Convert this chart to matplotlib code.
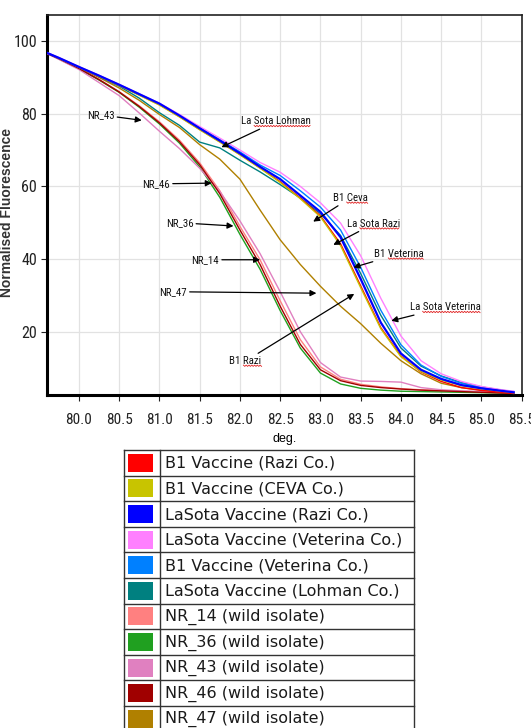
"""Melt-curve chart: normalised fluorescence vs temperature for NDV vaccines and wild isolates."""
from __future__ import annotations

import matplotlib

matplotlib.use("Agg")
import matplotlib.pyplot as plt
from matplotlib import font_manager
from matplotlib.lines import Line2D
from matplotlib.patches import Rectangle
from matplotlib.text import Text
from matplotlib.transforms import IdentityTransform

W, H = 531, 728

# pick a condensed face if one is installed, otherwise plain Arial metrics
_installed = {f.name for f in font_manager.fontManager.ttflist}
_narrow = [n for n in ("Liberation Sans Narrow", "Roboto Condensed", "Open Sans Condensed",
                       "DejaVu Sans Condensed", "Arial Narrow") if n in _installed]
HAS_NARROW = bool(_narrow)
NARROW = _narrow + ["Liberation Sans", "DejaVu Sans"]
ARIAL = ["Liberation Sans", "DejaVu Sans"]

# --- data ------------------------------------------------------------------
temps = [79.6, 79.75, 80.0, 80.25, 80.5, 80.75, 81.0, 81.25, 81.5, 81.75, 82.0, 82.25,
         82.5, 82.75, 83.0, 83.25, 83.5, 83.75, 84.0, 84.25, 84.5, 84.75, 85.0, 85.25, 85.4]

b1_razi = [96.7, 95.3, 92.8, 90.3, 87.8, 85.2, 82.5, 79.2, 75.7, 72.3, 68.8, 65.1,
           61.3, 56.8, 51.9, 44.2, 32.6, 21.1, 13.3, 8.9, 6.3, 4.6, 3.8, 3.3, 3.0]
b1_ceva = [96.8, 95.3, 92.8, 90.3, 87.8, 85.1, 82.4, 79.1, 75.6, 72.2, 68.7, 65.0,
           61.1, 56.6, 51.6, 43.7, 32.1, 20.8, 13.1, 9.0, 6.7, 5.1, 4.3, 3.6, 3.2]
lasota_razi = [96.8, 95.4, 92.9, 90.5, 88.0, 85.4, 82.8, 79.5, 76.0, 72.6, 69.1, 65.4,
               62.0, 57.5, 53.0, 46.0, 34.5, 22.5, 14.0, 9.5, 7.0, 5.3, 4.4, 3.7, 3.3]
lasota_veterina = [96.9, 95.5, 93.0, 90.6, 88.1, 85.5, 82.9, 79.8, 76.5, 73.3, 70.0, 66.6,
                   63.9, 60.0, 55.5, 49.9, 40.9, 29.2, 18.8, 12.0, 8.4, 6.3, 4.9, 4.0, 3.6]
b1_veterina = [96.8, 95.4, 92.9, 90.5, 88.0, 85.4, 82.8, 79.6, 76.2, 72.9, 69.5, 65.9,
               63.0, 58.8, 54.3, 48.0, 37.7, 25.9, 16.4, 10.8, 7.7, 5.8, 4.6, 3.9, 3.5]
lasota_lohman = [96.8, 95.3, 92.8, 90.2, 87.6, 84.3, 80.3, 76.8, 72.2, 70.6, 67.2, 64.0,
                 60.5, 56.8, 52.5, 46.5, 36.0, 24.5, 15.5, 10.5, 7.8, 6.0, 4.8, 3.9, 3.4]
nr_14 = [96.7, 95.2, 92.6, 89.5, 86.1, 82.2, 77.8, 72.7, 66.5, 58.8, 49.0, 39.8,
         28.5, 17.8, 10.3, 6.9, 5.5, 4.8, 4.3, 4.0, 3.8, 3.6, 3.4, 3.2, 3.1]
nr_36 = [96.7, 95.1, 92.4, 89.3, 85.9, 81.8, 77.2, 71.9, 65.4, 57.0, 46.8, 37.2,
         25.8, 15.5, 8.6, 5.6, 4.4, 3.9, 3.6, 3.5, 3.4, 3.3, 3.2, 3.1, 3.0]
nr_43 = [96.6, 95.0, 92.2, 88.6, 85.0, 80.2, 75.2, 70.4, 65.0, 58.6, 50.5, 41.5,
         31.0, 20.0, 11.5, 7.5, 6.4, 6.3, 6.1, 4.6, 4.0, 3.7, 3.5, 3.3, 3.1]
nr_46 = [96.7, 95.2, 92.5, 89.4, 86.0, 82.0, 77.5, 72.3, 66.0, 58.0, 48.0, 38.5,
         27.0, 16.5, 9.5, 6.5, 5.2, 4.6, 4.2, 3.9, 3.7, 3.5, 3.3, 3.1, 3.0]
nr_47 = [96.8, 95.3, 92.7, 90.0, 87.1, 83.7, 79.8, 76.2, 71.5, 67.5, 62.0, 53.5,
         45.3, 38.5, 32.5, 27.0, 22.2, 16.8, 12.0, 8.4, 5.8, 4.6, 3.9, 3.5, 3.3]

labels = [
    "B1 Vaccine (Razi Co.)",
    "B1 Vaccine (CEVA Co.)",
    "LaSota Vaccine (Razi Co.)",
    "LaSota Vaccine (Veterina Co.)",
    "B1 Vaccine (Veterina Co.)",
    "LaSota Vaccine (Lohman Co.)",
    "NR_14 (wild isolate)",
    "NR_36 (wild isolate)",
    "NR_43 (wild isolate)",
    "NR_46 (wild isolate)",
    "NR_47 (wild isolate)",
]
series = [b1_razi, b1_ceva, lasota_razi, lasota_veterina, b1_veterina, lasota_lohman,
          nr_14, nr_36, nr_43, nr_46, nr_47]
colors = ["#ff0000", "#c8c400", "#0000ff", "#ff80ff", "#0080ff", "#008080",
          "#ff8080", "#20a020", "#e080c0", "#a00000", "#b08000"]

x_ticks = [80.0, 80.5, 81.0, 81.5, 82.0, 82.5, 83.0, 83.5, 84.0, 84.5, 85.0, 85.5]
y_ticks = [20, 40, 60, 80, 100]

# (text, text position, arrow tip) in data units
callouts = [
    ("NR_43", (80.27, 79.7), (80.78, 78.2)),
    ("NR_46", (80.96, 60.7), (81.65, 60.9)),
    ("NR_36", (81.25, 50.0), (81.92, 49.1)),
    ("NR_14", (81.57, 39.8), (82.25, 39.8)),
    ("NR_47", (81.17, 31.0), (82.95, 30.6)),
    ("B1 Razi", (82.07, 11.9), (83.42, 30.4)),
    ("La Sota Lohman", (82.45, 77.9), (81.77, 70.8)),
    ("B1 Ceva", (83.37, 56.8), (82.91, 50.3)),
    ("La Sota Razi", (83.66, 49.7), (83.16, 43.9)),
    ("B1 Veterina", (83.98, 41.4), (83.41, 37.7)),
    ("La Sota Veterina", (84.55, 26.7), (83.88, 23.0)),
]
# words the original figure shows with a red spell-check squiggle
squiggled = {
    "B1 Razi": ("Razi",),
    "La Sota Lohman": ("Sota Lohman",),
    "B1 Ceva": ("Ceva",),
    "La Sota Razi": ("Sota Razi",),
    "B1 Veterina": ("Veterina",),
    "La Sota Veterina": ("Sota Veterina",),
}


def draw_curves(ax) -> list:
    """Plot every melt curve plus the arrow callouts; returns the callouts."""
    order = [10, 6, 7, 8, 9, 5, 0, 1, 4, 3, 2]
    for rank, i in enumerate(order):
        lw = 1.6 if i == 2 else 1.0
        ax.plot(temps, series[i], color=colors[i], lw=lw, zorder=3 + rank * 0.01)

    size = 7.8 if HAS_NARROW else 7.2
    notes = []
    for text, xytext, xy in callouts:
        notes.append(ax.annotate(
            text, xy=xy, xytext=xytext, ha="center", va="center",
            fontsize=size, family=NARROW, fontstretch="condensed",
            color="#111111", zorder=6,
            arrowprops=dict(arrowstyle="-|>", color="black", lw=0.9,
                            mutation_scale=9, shrinkA=0, shrinkB=0),
        ))
    return notes


def add_squiggles(fig, notes) -> None:
    """Red wavy underline under the flagged words (as in the source screenshot)."""
    fig.canvas.draw()
    renderer = fig.canvas.get_renderer()
    for note in notes:
        text = note.get_text()
        if text not in squiggled:
            continue
        # text-only extent (Annotation.get_window_extent also covers the arrow)
        box = Text.get_window_extent(note, renderer)
        prop = note.get_fontproperties()
        for word in squiggled[text]:
            start = text.index(word)
            x0 = box.x0 + renderer.get_text_width_height_descent(text[:start], prop, False)[0]
            x1 = box.x0 + renderer.get_text_width_height_descent(text[:start + len(word)], prop, False)[0]
            y = box.y0 + 1.0
            xs, ys, k = [], [], 0
            x = x0
            while x <= x1:
                xs.append(x)
                ys.append(y - 1.3 * (k % 2))
                x += 1.4
                k += 1
            fig.add_artist(Line2D(xs, ys, transform=IdentityTransform(),
                                  color="#e02020", lw=0.6))


def style_axes(ax) -> None:
    tick_size = 11 if HAS_NARROW else 9.5
    ax.set_xlim(79.6, 85.5)
    ax.set_ylim(2.56, 107.2)
    ax.set_xticks(x_ticks)
    ax.set_xticklabels([f"{t:.1f}" for t in x_ticks], family=NARROW,
                       fontstretch="condensed", fontsize=tick_size)
    ax.set_yticks(y_ticks)
    ax.set_yticklabels([str(t) for t in y_ticks], family=NARROW,
                       fontstretch="condensed", fontsize=tick_size + 0.5)
    ax.tick_params(axis="x", length=4, pad=9, colors="#222222")
    ax.tick_params(axis="y", length=4, pad=3, colors="#222222")
    ax.grid(True, color="#e2e2e2", lw=0.9, zorder=0)
    for side in ("left", "bottom"):
        ax.spines[side].set_linewidth(2.2)
        ax.spines[side].set_color("black")
    for side in ("top", "right"):
        ax.spines[side].set_linewidth(1.2)
        ax.spines[side].set_color("#222222")
    ax.set_xlabel("deg.", family=ARIAL, fontsize=9, labelpad=4)
    ax.set_ylabel("Normalised Fluorescence", family=ARIAL, fontsize=10,
                  fontweight="bold", color="#333333")
    ax.yaxis.set_label_coords(-0.069, 0.48)


def draw_legend_table(fig) -> None:
    """Boxed legend below the chart: colour swatch column plus label column."""
    lax = fig.add_axes([0, 0, 1, 1])
    lax.set_xlim(0, W)
    lax.set_ylim(H, 0)
    lax.axis("off")

    top, row_h = 450.0, 25.6
    left, divider, right = 124.0, 159.5, 414.0
    for x in (left, divider, right):
        lax.plot([x, x], [top, H], color="#333333", lw=1.0)
    for i in range(len(labels) + 1):
        y = top + i * row_h
        if y <= H:
            lax.plot([left, right], [y, y], color="#333333", lw=1.0)

    for i, (label, color) in enumerate(zip(labels, colors)):
        yc = top + (i + 0.5) * row_h
        lax.add_patch(Rectangle((127.5, yc - 9), 25, 18, facecolor=color,
                                edgecolor="none"))
        lax.text(165, yc + 0.5, label, family=["DejaVu Sans"], fontsize=11.5,
                 color="#1a1a1a", va="center", ha="left")


def main() -> None:
    fig = plt.figure(figsize=(W / 100, H / 100), dpi=100)
    ax = fig.add_axes([46.7 / W, 1 - 395 / H, (521.7 - 46.7) / W, (395 - 15) / H])
    style_axes(ax)
    notes = draw_curves(ax)
    draw_legend_table(fig)
    add_squiggles(fig, notes)
    fig.savefig("out.png", dpi=100)
    plt.close(fig)


if __name__ == "__main__":
    main()
